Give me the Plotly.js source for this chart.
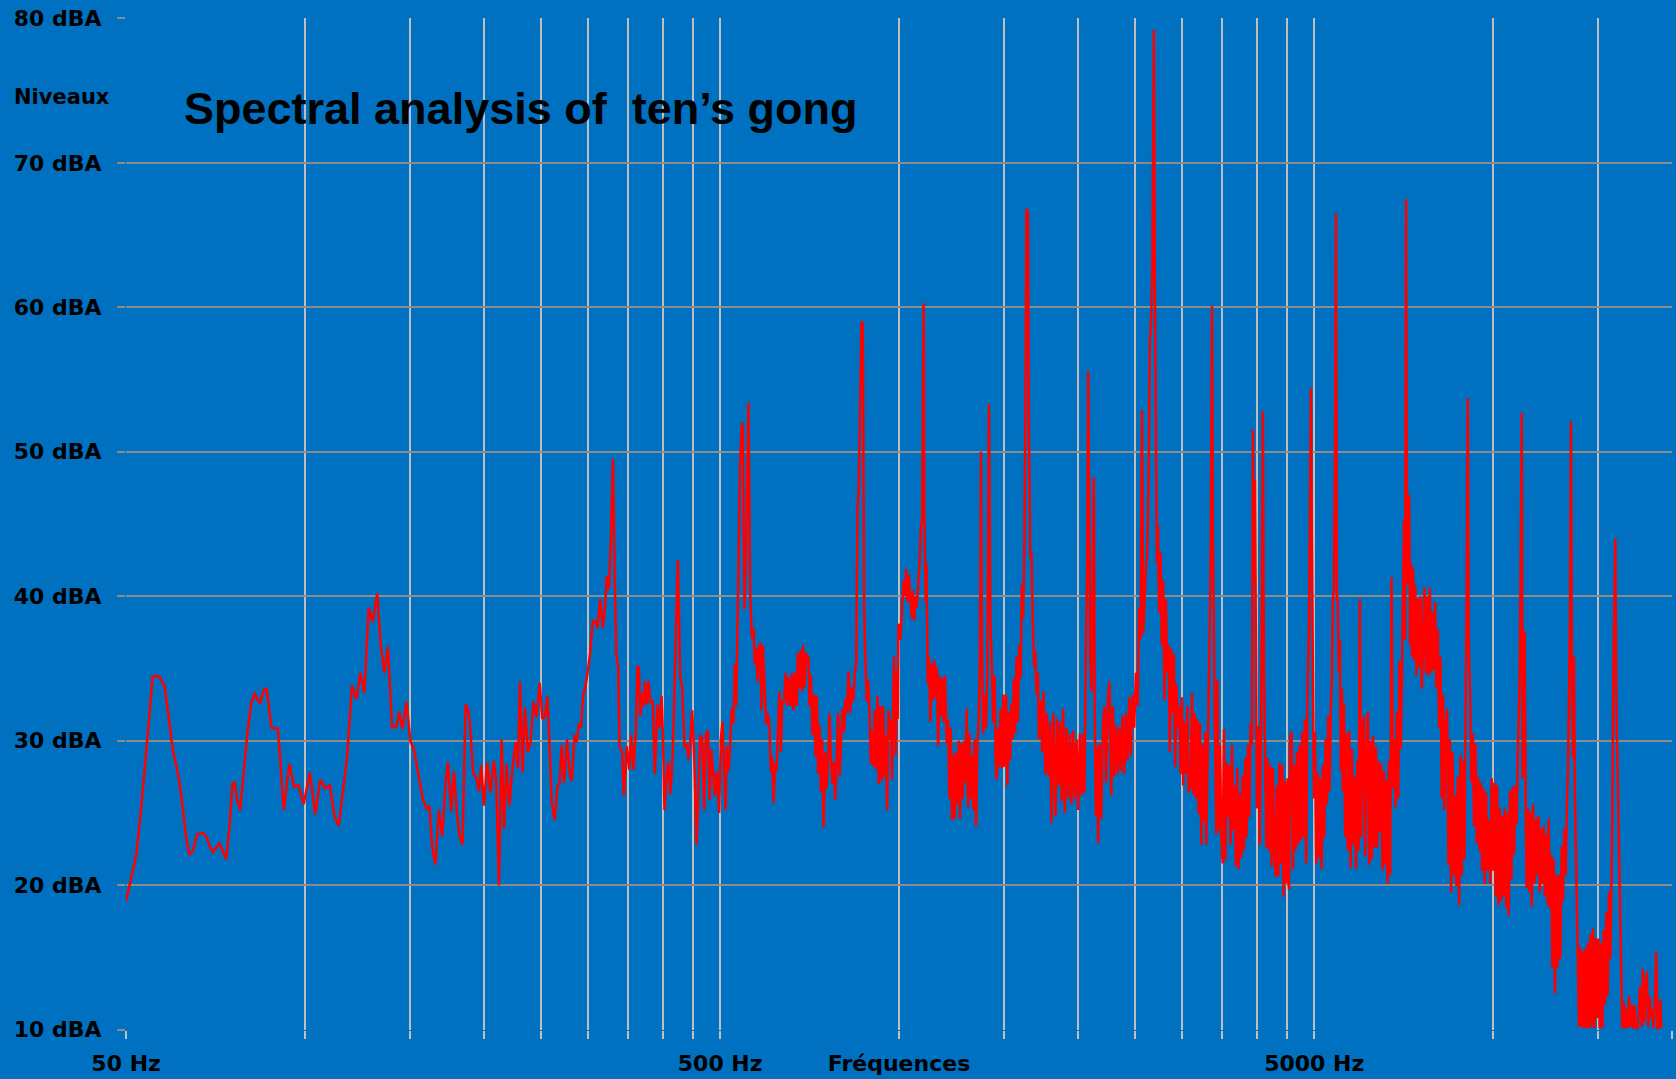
<!DOCTYPE html>
<html>
<head>
<meta charset="utf-8">
<script src="https://cdn.plot.ly/plotly-3.0.1.min.js"></script>
<style>
html,body{margin:0;padding:0;background:#0070C0;}
#chart{width:1676px;height:1079px;}
</style>
</head>
<body>
<div id="chart"></div>
<script>
// ---- Data: [frequency in Hz, level in dBA] ----
const bandLow = [
[50.0,18.9],[51.3,21.0],[52.0,22.1],[53.0,25.3],[54.0,28.8],[54.7,31.7],[55.4,34.4],[56.0,34.5],[56.9,34.4],[58.0,33.8],
[58.8,32.0],[59.9,29.4],[60.7,28.3],[61.5,27.1],[62.3,25.3],[63.1,23.3],[63.9,22.1],[64.8,22.4],[65.8,23.5],[67.3,23.6],
[68.4,23.3],[69.1,22.7],[70.0,22.3],[70.9,22.6],[71.8,22.9],[72.8,22.3],[73.7,21.8],[74.7,24.2],[75.5,27.0],[76.1,27.1],
[76.9,25.9],[77.8,25.2],[78.6,27.1],[79.9,30.3],[81.2,32.6],[82.3,33.3],[83.0,32.9],[84.1,32.6],[85.2,33.5],[86.1,33.6],
[87.0,32.3],[87.8,30.9],[90.1,30.8],[90.9,28.8],
[92.1,25.2],[94.1,28.4],[95.9,26.8],[97.6,26.9],[99.5,25.6],[101.9,27.8],[104.1,24.9],[106.1,27.3],[108.2,26.7],[110.1,26.9],
[112.1,24.8],[114.0,24.1],[116.2,27.1],[117.7,28.8],[120.0,33.8],[122.1,32.9],[124.0,34.7],[125.9,33.3],[128.0,39.2],[130.0,38.2],
[132.3,40.2],[134.3,36.4],[136.1,34.7],[137.9,36.5],[140.2,30.9],[142.6,31.0],[144.1,32.0],[145.9,30.8],[148.2,32.7],[150.6,29.9],
[152.5,29.4],[155.5,27.4],[158.1,25.9],[160.2,25.3],[162.0,25.5],[163.7,22.7],[165.8,21.4],[168.0,25.2]
];
const bandMid = [
[170.3,23.4],[172.5,27.1],[174.0,28.5],[176.3,25.1],[178.1,27.9],[180.4,24.8],[182.3,23.3],[184.2,22.8],[186.4,32.5],[188.0,32.2],
[189.5,31.3],[192.0,27.7],[194.2,27.5],[196.3,26.5],[198.0,28.3],[200.1,25.5],[202.7,28.5],[205.3,26.4],[208.0,28.6],[209.9,27.1],
[212.1,20.0],[214.3,30.1],[216.3,23.9],[218.5,28.4],[220.8,25.5],[223.4,28.0],[226.3,29.9],[228.3,28.1],[230.1,34.1],[232.5,27.8],
[234.6,32.3],[237.4,29.2],[239.9,30.0],[242.4,32.7],[245.5,31.6],[248.4,34.0],[250.9,31.5],[253.6,31.7],[255.9,33.1],[258.2,29.4],
[260.2,25.8],[263.3,24.5],[266.0,26.8],[268.4,27.1],[270.5,29.7],[273.0,27.1],[276.2,30.1],[279.1,27.7],[281.2,27.2],[284.5,30.4],
[286.7,29.9],[289.3,31.2],[291.6,30.9],[294.2,33.3],[296.2,33.6],[298.8,34.6],
[302.1,36.1],[305.2,38.3],[308.0,38.3],[310.8,37.8],[314.1,39.8],[317.3,37.8],[319.8,39.1],[322.3,41.4],[324.8,40.5],[327.3,43.8],
[329.9,49.5],[332.4,41.1],[334.2,36.1],[336.8,35.1],[338.5,29.6],[342.0,29.2],[344.2,26.2],[348.2,29.6],[351.4,28.0],[354.1,30.4],
[357.3,28.0],[360.6,30.7],[362.9,35.1],[364.8,35.1],[366.7,31.7],[369.6,33.3],[371.5,32.4],[373.9,34.1],[376.3,32.5],[378.7,34.1],
[381.2,32.7],[385.1,32.7],[388.1,27.7],[392.1,32.5],[395.2,30.9],[398.3,33.1],[400.3,30.7],[402.9,25.2],[405.6,27.0],[409.2,28.5],
[412.4,26.3],[416.1,29.2],[419.9,36.4],[424.3,42.5],[428.2,34.4],[431.5,33.7],[435.5,29.6],[439.4,29.7],[442.3,28.7],[445.2,29.7],
[448.6,32.1],[452.1,28.9],[456.3,22.8],[459.8,27.4],[462.7,30.4],[466.4,30.1],[470.0,25.2],[473.0,30.4],[476.7,30.7],[479.8,25.9],
[482.9,29.4],[486.0,28.0],[489.8,26.2],[493.6,27.9],[498.1,25.0],[501.3,30.1],[504.5,31.3],[507.8,28.0],[510.4,25.2],[513.0,29.6],
[516.4,27.9],[519.7,29.7],[523.1,32.3],[526.5,31.2],[529.3,35.3],[532.0,32.4]
];
const bandUpperMid = [
[536.0,41.8],[540.2,49.2],[543.8,51.9],[545.8,51.9],[549.4,39.1],[553.0,43.1],[557.9,53.4],[561.6,40.4],[565.2,37.1],[568.9,37.8],
[571.8,35.3],[574.8,36.4],[577.8,34.1],[580.8,36.4],[583.8,36.8],[586.8,32.1],[589.9,36.6],[593.7,33.7],[597.5,31.1],[600.6,31.9],
[605.3,31.1],[608.4,27.9],[611.6,28.9],[614.8,25.7],[618.8,28.4],[622.0,27.9],[625.2,30.7],[629.2,33.4],[632.5,29.2],[635.8,32.7],
[640.7,32.7],[644.0,34.7],[649.0,32.4],[652.4,34.4],[657.4,32.4],[660.9,34.7],[664.3,32.1],[668.6,34.7],[672.9,32.4],[675.6,36.1],
[679.9,33.6],[683.5,36.3],[687.0,33.4],[689.6,36.6],[693.2,33.7],[697.7,36.1],[701.3,35.3],[704.1,35.8],[706.8,32.4],[710.5,34.6],
[715.1,30.4],[719.7,33.2],[723.5,28.9],[727.2,33.1],[731.0,27.7],[734.8,31.1],[738.6,26.5],[742.4,30.1],[746.3,24.0],[751.1,29.2],
[755.0,26.7],[759.9,28.7],[763.9,31.9],[767.8,29.0],[772.8,27.0],[776.8,28.5],[780.8,25.9],[785.9,29.9],[790.0,31.9],[794.1,27.5],
[799.2,30.7],[803.3,32.2],[808.6,30.6],[811.7,32.9],[817.0,31.9],[822.3,34.8],[827.6,31.9],[831.9,33.7],[837.3,32.7],[842.7,34.7],
[847.1,35.4],[851.5,46.2],[855.9,47.5],[860.3,52.5],[864.8,59.0],[869.2,58.9],[873.7,39.1],[877.2,35.8],[882.8,32.7],[887.4,34.2],
[892.0,32.1],[896.6,28.4],[901.2,30.7],[905.9,28.2],[910.6,32.1],[915.2,28.0],[920.0,33.1],[924.8,27.0],[929.5,32.4],[935.5,27.2],
[940.3,32.4],[945.2,27.5],[950.1,30.4],[955.0,25.2],[959.9,32.1],[966.2,30.1]
];
const bandHighA = [
[970,31.5],[973,27.3],[981,35.8],[987,29.0],[992,34.9],[995,31.5],[998,38.1],[1005,37.0],[1011,39.2],[1018,41.1],
[1024,40.0],[1028,41.9],[1033,39.6],[1039,41.5],[1044,40.0],[1051,38.5],[1055,40.4],[1060,38.3],[1066,40.0],[1071,39.2],
[1077,40.8],[1083,42.3],[1088,44.6],[1094,45.3],[1100,60.3],[1103,46.1],[1109,39.6],[1112,42.3],[1118,33.9],[1123,35.8],
[1129,31.3],[1135,35.3],[1140,32.8],[1146,35.6],[1152,33.0],[1158,35.1],[1164,29.6],[1170,34.5],[1177,31.7],[1183,34.3],
[1189,31.3],[1195,34.5],[1203,29.8],[1209,31.5],[1216,26.0],[1222,30.9],[1228,24.5],[1235,29.0],[1241,24.6],[1247,29.2],
[1254,25.6],[1260,30.0],[1267,24.6],[1273,29.8],[1280,26.0],[1287,30.0],[1293,27.1],[1300,32.2],[1307,25.4],[1314,30.5],
[1320,26.0],[1327,29.0],[1334,25.2],[1341,30.1],[1348,24.1],[1355,29.8],[1362,31.3],[1369,36.2],[1374,50.0],[1379,36.6],
[1386,30.5],[1394,33.2],[1401,30.9],[1408,34.7],[1417,53.3],[1425,38.5],[1434,34.7],[1441,31.3],[1449,34.5],[1454,28.6],
[1460,27.3],[1468,30.9],[1475,28.2],[1483,32.2],[1491,28.1],[1498,33.2],[1506,28.2],[1514,33.2],[1522,26.9],[1530,32.0],
[1538,28.6],[1546,32.6],[1554,30.1],[1561,34.3],[1569,30.5],[1577,35.8],[1585,31.3],[1593,36.6],[1602,34.3],[1610,40.8],
[1618,38.5],[1626,43.8],[1633,53.7],[1639,66.8],[1648,66.6],[1654,51.8],[1663,42.7],[1671,43.0],[1680,38.1],[1689,35.1],
[1695,36.2],[1704,33.2],[1713,34.7],[1720,30.1]
];
const bandHighB = [
[1735,32.8],[1742,29.2],[1751,33.4],[1764,27.7],[1774,31.9],[1785,27.5],[1797,31.3],[1806,24.3],[1820,31.9],[1834,24.8],
[1846,31.5],[1858,26.9],[1870,31.3],[1880,25.8],[1889,32.2],[1902,25.0],[1914,30.9],[1927,26.0],[1939,30.5],[1952,25.6],
[1964,30.7],[1977,26.0],[1990,30.1],[2003,25.2],[2016,30.5],[2029,26.2],[2042,30.5],[2052,26.4],[2063,36.2],[2074,42.3],
[2082,55.6],[2090,47.6],[2098,35.8],[2109,33.4],[2117,39.2],[2128,48.2],[2136,31.3],[2145,24.8],[2156,29.6],[2164,22.9],
[2175,29.8],[2189,24.6],[2204,30.9],[2218,32.4],[2232,27.1],[2247,32.8],[2261,34.1],[2276,26.2],[2290,32.4],[2302,27.5],
[2317,31.1],[2332,27.7],[2347,30.9],[2363,27.9],[2378,31.7],[2394,27.7],[2409,31.9],[2425,28.6],[2440,33.0],[2456,29.0],
[2472,33.2],[2488,30.9],[2505,34.7],[2521,32.4],[2537,39.2],[2550,37.0],[2564,52.9],[2577,37.4],[2589,39.6],[2603,41.9],
[2616,42.7],[2630,47.6],[2644,57.5],[2657,59.0],[2671,63.1],[2685,79.2],[2696,61.3],[2706,46.8],[2717,42.3],[2727,44.9],
[2741,38.9],[2756,43.0],[2770,36.6],[2784,41.1],[2799,32.8],[2813,39.8],[2828,34.7],[2843,36.6],[2857,29.2],[2872,36.4],
[2887,31.9],[2902,36.0],[2917,28.2],[2932,33.9],[2948,30.9],[2963,32.4],[2978,27.7],[2994,33.0],[3009,26.9],[3025,31.3],
[3041,27.7],[3057,32.4],[3073,26.4]
];
const bandHighC = [
[3097,26.9],[3113,33.3],[3129,26.3],[3145,31.9],[3162,26.0],[3178,31.5],[3194,24.9],[3211,31.2],[3228,22.8],[3244,29.7],
[3261,24.4],[3278,30.6],[3290,22.8],[3307,28.3],[3324,32.4],[3337,38.3],[3350,44.2],[3363,60.1],[3376,44.2],[3389,34.7],
[3403,30.6],[3421,23.5],[3434,34.2],[3452,23.8],[3470,29.7],[3488,23.3],[3506,21.5],[3524,30.8],[3542,21.7],[3560,28.5],
[3579,24.7],[3597,28.3],[3616,22.8],[3635,29.7],[3653,23.8],[3672,26.9],[3691,21.3],[3710,28.1],[3730,21.1],[3749,26.3],
[3768,21.9],[3787,27.6],[3807,22.4],[3827,28.8],[3846,23.3],[3867,29.7],[3887,24.7],[3907,31.2],[3928,29.7],[3943,51.5],
[3958,41.0],[3973,48.1],[3989,30.6],[4004,25.3],[4025,31.0],[4046,22.8],[4072,32.4],[4098,52.8],[4114,35.1],[4130,29.7],
[4152,22.6],[4173,28.8],[4195,22.4],[4216,28.3],[4238,21.3],[4260,28.1],[4282,22.4],[4304,20.6],[4326,26.9],[4348,20.6],
[4371,28.5],[4394,21.5],[4417,28.3],[4440,19.2],[4463,27.2],[4486,20.1],[4509,27.4],[4533,19.7],[4556,30.1],[4580,30.6],
[4604,21.1],[4627,28.3],[4651,22.4],[4675,29.2],[4700,22.8],[4724,29.7],[4748,23.1],[4773,30.6],[4797,23.3],[4822,31.5],
[4847,21.5],[4872,33.7],[4897,36.9],[4916,44.2],[4935,54.4],[4954,44.2],[4973,32.4],[4994,26.0],[5013,30.6],[5039,21.5],
[5065,27.8],[5091,21.9],[5118,27.4],[5144,21.1],[5171,28.3],[5198,23.3],[5225,30.1],[5252,25.6],[5279,31.7],[5306,26.5],
[5333,32.4],[5354,34.2],[5375,39.7],[5396,40.6],[5417,48.7],[5438,66.5],[5459,39.7]
];
const bandHighD = [
[5473,40.0],[5501,34.7],[5522,37.0],[5543,27.9],[5565,33.6],[5586,26.5],[5608,32.6],[5637,23.3],[5666,30.5],[5696,22.4],
[5726,30.7],[5756,21.2],[5785,29.4],[5815,22.8],[5845,27.5],[5876,21.1],[5906,28.6],[5937,22.4],[5967,39.8],[5998,23.3],
[6029,30.5],[6061,31.7],[6092,22.0],[6123,29.4],[6155,32.0],[6187,21.4],[6219,30.0],[6251,21.8],[6283,30.3],[6315,22.6],
[6348,29.6],[6381,22.6],[6413,28.6],[6446,23.7],[6481,28.4],[6515,21.0],[6549,27.9],[6583,21.4],[6617,27.3],[6642,20.1],
[6677,28.6],[6711,20.7],[6746,41.3],[6781,26.7],[6816,30.1],[6851,25.4],[6887,32.0],[6922,26.0],[6958,35.5],[6994,29.4],
[7030,36.2],[7057,40.8],[7085,45.3],[7112,37.0],[7140,67.5],[7167,40.8],[7195,45.3],[7223,47.0],[7251,36.6],[7279,42.3],
[7307,35.8],[7335,41.9],[7365,35.6],[7394,40.8],[7432,34.5],[7470,39.8],[7509,35.1],[7548,40.0],[7587,33.6],[7626,37.0],
[7666,40.6],[7706,34.7],[7745,40.0],[7786,34.5],[7826,40.6],[7866,34.7],[7907,38.9],[7948,34.9],[7989,39.6],[8030,33.6],
[8071,37.7],[8113,30.9],[8155,35.8],[8197,26.0],[8239,33.2],[8282,25.2],[8324,30.9],[8367,32.2],[8413,21.4],[8456,30.1],
[8500,19.5],[8544,29.2],[8588,20.7],[8633,26.2],[8677,19.9],[8722,27.5],[8768,18.6],[8813,29.0],[8858,20.7],[8904,28.6],
[8950,21.8],[8997,33.6],[9031,40.4],[9066,53.7],[9101,36.6],[9148,33.2],[9196,27.1],[9243,30.5],[9291,24.1],[9339,29.8],
[9387,22.9],[9435,27.5],[9484,22.4],[9535,27.1],[9584,21.0],[9634,26.7],[9684,20.1],[9734,26.4],[9785,21.0],[9835,24.5]
];
const bandTop = [
[9896,20.1],[9946,27.4],[10000,21.0],[10052,27.1],[10104,19.2],[10156,26.9],[10209,18.6],[10262,25.3],[10315,18.9],[10368,24.8],
[10422,19.2],[10476,25.3],[10530,18.4],[10585,25.0],[10626,17.9],[10681,26.5],[10736,20.4],[10791,26.8],[10847,22.1],[10903,26.9],
[10959,24.2],[11002,28.8],[11044,31.7],[11087,34.4],[11130,42.2],[11173,52.7],[11216,27.4],[11259,34.7],[11302,37.6],[11346,25.6],
[11393,19.8],[11452,25.3],[11511,19.5],[11571,25.0],[11616,18.5],[11676,25.6],[11736,20.1],[11797,24.6],[11858,20.7],[11920,24.8],
[11981,19.5],[12043,23.9],[12105,20.1],[12168,24.1],[12231,19.2],[12294,23.5],[12358,18.6],[12405,24.6],[12469,18.4],[12534,22.1],
[12582,14.3],[12647,21.8],[12712,12.5],[12778,20.7],[12843,14.3],[12909,20.7],[12979,14.9],[13047,22.7],[13114,18.9],[13182,23.9],
[13251,20.7],[13319,25.9],[13371,28.0],[13423,32.9],[13475,39.3],[13527,52.1],[13580,32.9],[13632,28.8],[13685,35.8],[13738,25.9],
[13791,21.0],[13845,17.8],[13898,14.3],[13952,10.2],[14006,15.7],[14061,10.2],[14133,15.4],[14206,10.1],[14279,15.6],[14353,10.1],
[14427,16.0],[14501,10.1],[14576,16.6],[14651,10.2],[14730,17.0],[14806,10.1],[14883,16.3],[14960,10.8],[15038,16.3],[15116,10.1],
[15194,16.0],[15273,10.1],[15352,16.9],[15431,11.7],[15511,18.1],[15591,12.3],[15672,19.5],[15753,14.9],[15814,20.1],[15875,24.5],
[15936,34.1],[15998,39.9],[16060,44.0],[16122,32.9],[16184,28.8],[16247,24.5],[16310,19.5],[16373,15.4],[16436,13.7],[16500,10.1],
[16584,11.9],[16670,10.1],[16760,11.4],[16847,10.1],[16934,12.3],[17022,10.2],[17110,11.7],[17199,10.1],[17288,11.7],[17377,10.1],
[17512,10.1],[17603,11.4],[17694,13.0],[17786,10.2],[17878,14.2],[17970,10.5],[18063,13.1],[18156,14.0],[18250,10.2],[18344,12.3],
[18439,10.8],[18534,11.4],[18629,10.1],[18725,11.9],[18822,15.4],[18918,10.1],[19016,10.1],[19119,12.1],[19194,10.1]
];

// ---- Axis ticks ----
const xTickValues = [50,100,150,200,250,300,350,400,450,500,1000,1500,2000,2500,3000,3500,4000,4500,5000,10000,15000,20000];
const xTickLabels = ['50 Hz','','','','','','','','','500 Hz','Fréquences','','','','','','','','5000 Hz','','',''];
const yTickValues = [10,20,30,40,50,60,70,80];
const yTickLabels = ['10 dBA','20 dBA','30 dBA','40 dBA','50 dBA','60 dBA','70 dBA','80 dBA'];
const chartTitle = 'Spectral analysis of\u00a0 ten\u2019s gong';
const levelLabel = 'Niveaux';

const spectrum = [].concat(bandLow, bandMid, bandUpperMid, bandHighA, bandHighB, bandHighC, bandHighD, bandTop);
const freq = spectrum.map(p => p[0]);
const level = spectrum.map(p => p[1]);

const labelFont = {family: 'DejaVu Sans, Verdana, sans-serif', size: 22, color: '#000000'};

const trace = {
  x: freq, y: level, type: 'scatter', mode: 'lines',
  line: {color: '#FF0000', width: 2.5},
  hoverinfo: 'skip', showlegend: false
};

const layout = {
  width: 1676, height: 1079,
  margin: {l: 126, r: 4, t: 18, b: 49, pad: 0},
  paper_bgcolor: '#0070C0', plot_bgcolor: '#0070C0',
  showlegend: false,
  title: {
    text: '<b>' + chartTitle + '</b>',
    font: {family: 'Liberation Sans, Arial, sans-serif', size: 45, color: '#000000'},
    x: 184/1676, xref: 'container', xanchor: 'left',
    y: 1 - 108/1079, yref: 'container', yanchor: 'middle'
  },
  xaxis: {
    type: 'log',
    range: [Math.log10(50) - 0.0002, Math.log10(20000) + 0.0002],
    tickmode: 'array', tickvals: xTickValues, ticktext: xTickLabels.map(t => t ? '<b>' + t + '</b>' : ''),
    tickfont: labelFont,
    showgrid: true, gridcolor: '#BFBFBF', gridwidth: 2,
    ticks: 'outside', ticklen: 8, tickwidth: 2, tickcolor: '#BFBFBF',
    ticklabelstandoff: 6,
    zeroline: false, showline: false, fixedrange: true
  },
  yaxis: {
    range: [9.97, 80.03],
    tickmode: 'array', tickvals: yTickValues, ticktext: yTickLabels.map(t => '<b>' + t + '</b>'),
    tickfont: labelFont,
    showgrid: true, gridcolor: '#8C8C8C', gridwidth: 2,
    ticks: 'outside', ticklen: 8, tickwidth: 2, tickcolor: '#8C8C8C',
    ticklabelstandoff: 11,
    zeroline: false, showline: false, fixedrange: true
  },
  annotations: [{
    text: '<b>' + levelLabel + '</b>',
    xref: 'paper', yref: 'paper',
    x: (12 - 126) / 1546, xanchor: 'left',
    y: (1030 - 97) / 1012, yanchor: 'middle',
    showarrow: false, font: {family: 'DejaVu Sans, Verdana, sans-serif', size: 21, color: '#000000'}
  }]
};

Plotly.newPlot('chart', [trace], layout, {displayModeBar: false, staticPlot: true});
</script>
</body>
</html>
